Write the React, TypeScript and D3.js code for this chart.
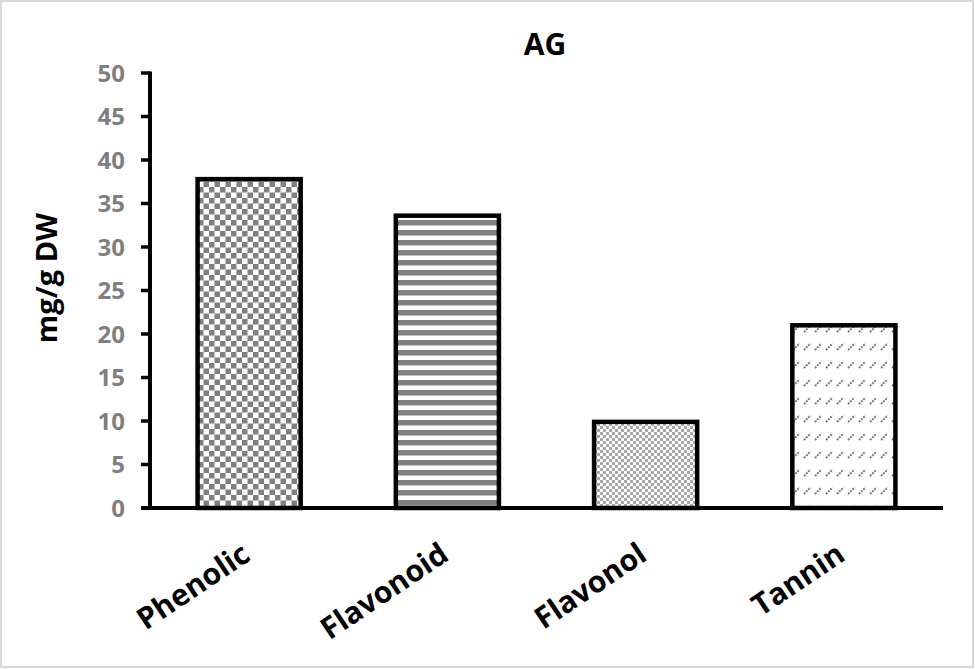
import React from "react";
import * as d3 from "d3";

const categories = ["Phenolic", "Flavonoid", "Flavonol", "Tannin"];
const values = [37.8, 33.6, 9.9, 21.0];
const yTicks = [0, 5, 10, 15, 20, 25, 30, 35, 40, 45, 50];
const patterns = ["checkLarge", "hStripe", "checkSmall", "dashDiag"];
const title = "AG";
const yLabel = "mg/g DW";

const W = 975;
const H = 669;
const FONT = "'Open Sans', 'DejaVu Sans', sans-serif";

export default function App() {
  const x = d3.scaleBand<string>().domain(categories).range([150, 943]).paddingInner(0.48).paddingOuter(0.24);
  const y = d3.scaleLinear().domain([0, 50]).range([508, 73]);
  const grey = "#808080";

  return (
    <svg width={W} height={H} style={{ position: "fixed", left: 0, top: 0, background: "#fff" }} fontFamily={FONT}>
      <defs>
        <pattern id="checkLarge" patternUnits="userSpaceOnUse" width={11} height={11}>
          <rect width={11} height={11} fill="#fff" />
          <rect x={0} y={0} width={5.5} height={5.5} fill={grey} />
          <rect x={5.5} y={5.5} width={5.5} height={5.5} fill={grey} />
        </pattern>
        <pattern id="hStripe" patternUnits="userSpaceOnUse" width={10} height={10}>
          <rect width={10} height={10} fill="#fff" />
          <rect x={0} y={0} width={10} height={5.5} fill={grey} />
        </pattern>
        <pattern id="checkSmall" patternUnits="userSpaceOnUse" width={6} height={6}>
          <rect width={6} height={6} fill="#fff" />
          <rect x={0} y={0} width={3} height={3} fill="#a8a8a8" />
          <rect x={3} y={3} width={3} height={3} fill="#a8a8a8" />
        </pattern>
        <pattern id="dashDiag" patternUnits="userSpaceOnUse" width={11} height={18}>
          <rect width={11} height={18} fill="#fff" />
          <line x1={1} y1={8} x2={7.5} y2={1.5} stroke="#7a7a7a" strokeWidth={2} strokeDasharray="2 1" />
        </pattern>
      </defs>
      <rect x={1} y={1} width={W - 3} height={H - 3} fill="#fff" stroke="#d9d9d9" strokeWidth={2} />

      <text x={545} y={55} textAnchor="middle" fontSize={30} fontWeight="bold" fill="#000">{title}</text>

      {categories.map((c, i) => (
        <rect
          key={c}
          x={x(c)!}
          y={y(values[i])}
          width={x.bandwidth()}
          height={y(0) - y(values[i])}
          fill={`url(#${patterns[i]})`}
          stroke="#000"
          strokeWidth={4.5}
        />
      ))}

      <line x1={150} x2={150} y1={y(50) - 1.5} y2={y(0) + 2} stroke="#000" strokeWidth={4} />
      <line x1={141} x2={943} y1={y(0)} y2={y(0)} stroke="#000" strokeWidth={4} />
      {yTicks.map((t) => (
        <g key={t}>
          <line x1={141} x2={150} y1={y(t)} y2={y(t)} stroke="#000" strokeWidth={3.5} />
          <text x={125} y={y(t)} dy="0.36em" textAnchor="end" fontSize={24} fontWeight="bold" fill="#7f7f7f">{t}</text>
        </g>
      ))}

      {categories.map((c) => {
        const cx = x(c)! + x.bandwidth() / 2;
        return (
          <text
            key={c}
            transform={`translate(${cx + 3},${559}) rotate(-34)`}
            textAnchor="end"
            fontSize={30}
            fontWeight="bold"
            fill="#000"
          >
            {c}
          </text>
        );
      })}

      <text transform={`translate(57,278) rotate(-90)`} textAnchor="middle" fontSize={29} fontWeight="bold" fill="#000">{yLabel}</text>
    </svg>
  );
}
